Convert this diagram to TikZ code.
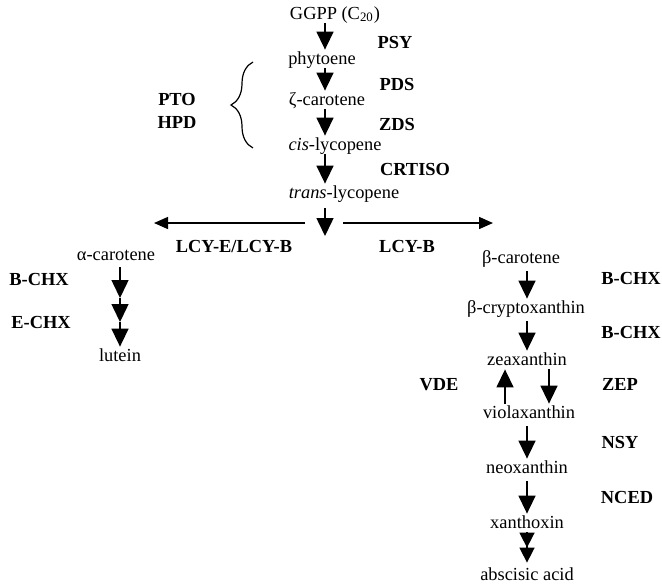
\documentclass[tikz,border=0pt]{standalone}
\usepackage{fontspec}
\setmainfont{Liberation Serif}
\usepackage{tikz}
\usetikzlibrary{
	arrows.meta,
	decorations.pathreplacing,
	calc
}

\begin{document}
\begin{tikzpicture}[
	x=0.5pt, y=-0.5pt,
	chem/.style={
		inner sep=0pt, text height=7pt, text depth=2pt,
		font=\fontsize{9.2}{11}\selectfont
	},
	enz/.style={
		chem, font=\fontsize{9.2}{11}\selectfont\bfseries
	},
	arrow/.style={-{Triangle[length=9pt,width=8.5pt]}, line width=0.75pt},
	harrow/.style={-{Triangle[length=7pt,width=6pt]}, line width=0.75pt},
	]
	\useasboundingbox (0,0) rectangle (662,585);
	
	%main chain
	\coordinate (main) at (325,0);
	\node[chem] (ggpp) at (335,14) {GGPP (C\textsubscript{20})};
	\node[chem] (phyto) at (322,59) {phytoene};
	\node[chem] (zeta) at (327,100) {ζ-carotene};
	\node[chem] (cis) at (335,145) {\textit{cis}-lycopene};
	\node[chem] (trans) at (344,193) {\textit{trans}-lycopene};
	\node[enz] (psy) at (395,43) {PSY};
	\node[enz] (pds) at (397,85) {PDS};
	\node[enz] (zds) at (397,125) {ZDS};
	\node[enz] (crtiso) at (415,170) {CRTISO};
	\node[enz] (pto) at (177,100) {PTO};
	\node[enz] (hpd) at (177,123) {HPD};
	\draw[arrow] (ggpp.south -| main) -- (phyto.north -| main);
	\draw[arrow] (phyto.south -| main) -- (zeta.north -| main);
	\draw[arrow] (zeta.south -| main) -- (cis.north -| main);
	\draw[arrow] (cis.south -| main) -- (trans.north -| main);
	\draw[line width=0.6pt, decorate, decoration={brace, amplitude=11pt}] (253,148) -- (253,62);
	
	%split
	\coordinate (split) at (325,236);
	\coordinate (splitL) at (305,223);
	\coordinate (splitR) at (343,223);
	\coordinate (leftend) at (154,223);
	\coordinate (rightend) at (493,223);
	\draw[arrow] ([yshift=-3pt]trans.south -| main) -- (split);
	\draw[harrow] (splitL) -- (leftend);
	\draw[harrow] (splitR) -- (rightend);
	\node[enz] (lcyeb) at (234,247) {LCY-E/LCY-B};
	\node[enz] (lcyb) at (407,247) {LCY-B};
	
	%alpha branch
	\coordinate (amain) at (120,0);
	\node[chem] (alpha) at (116,255) {α-carotene};
	\node[chem] (lutein) at (120,356) {lutein};
	\node[enz] (bchxa) at (39,280) {B-CHX};
	\node[enz] (echx) at (41,323) {E-CHX};
	\coordinate (astep1) at (120,298);
	\coordinate (astep2) at (120,322);
	\draw[arrow] ([yshift=-1.5pt]alpha.south -| amain) -- (astep1);
	\draw[arrow] (astep1) -- (astep2);
	\draw[arrow] (astep2) -- (lutein.north -| amain);
	
	%beta branch
	\coordinate (bmain) at (527,0);
	\node[chem] (beta) at (521,258) {β-carotene};
	\node[chem] (bcrypt) at (526,308) {β-cryptoxanthin};
	\node[chem] (zea) at (527,360) {zeaxanthin};
	\node[chem] (viola) at (529,413) {violaxanthin};
	\node[chem] (neo) at (527,468) {neoxanthin};
	\node[chem] (xanth) at (527,523) {xanthoxin};
	\node[chem] (aba) at (527,575) {abscisic acid};
	\node[enz] (bchx1) at (631,279) {B-CHX};
	\node[enz] (bchx2) at (631,333) {B-CHX};
	\node[enz] (vde) at (439,385) {VDE};
	\node[enz] (zep) at (620,385) {ZEP};
	\node[enz] (nsy) at (620,443) {NSY};
	\node[enz] (nced) at (627,498) {NCED};
	\draw[arrow] ([yshift=-2pt]beta.south -| bmain) -- (bcrypt.north -| bmain);
	\draw[arrow] ([yshift=-2pt]bcrypt.south -| bmain) -- (zea.north -| bmain);
	\draw[arrow] ([xshift=-11pt]viola.north -| bmain) -- ([xshift=-11pt]zea.south -| bmain);
	\draw[arrow] ([xshift=11pt]zea.south -| bmain) -- ([xshift=11pt]viola.north -| bmain);
	\draw[arrow] ([yshift=-2pt]viola.south -| bmain) -- (neo.north -| bmain);
	\draw[arrow] ([yshift=-2pt]neo.south -| bmain) -- (xanth.north -| bmain);
	\draw[-{Triangle[length=7.5pt,width=7.5pt,sep=0pt]Triangle[length=7.5pt,width=7.5pt]}, line width=0.75pt] (xanth.south -| bmain) -- ([yshift=1.5pt]aba.north -| bmain);
\end{tikzpicture}
\end{document}
